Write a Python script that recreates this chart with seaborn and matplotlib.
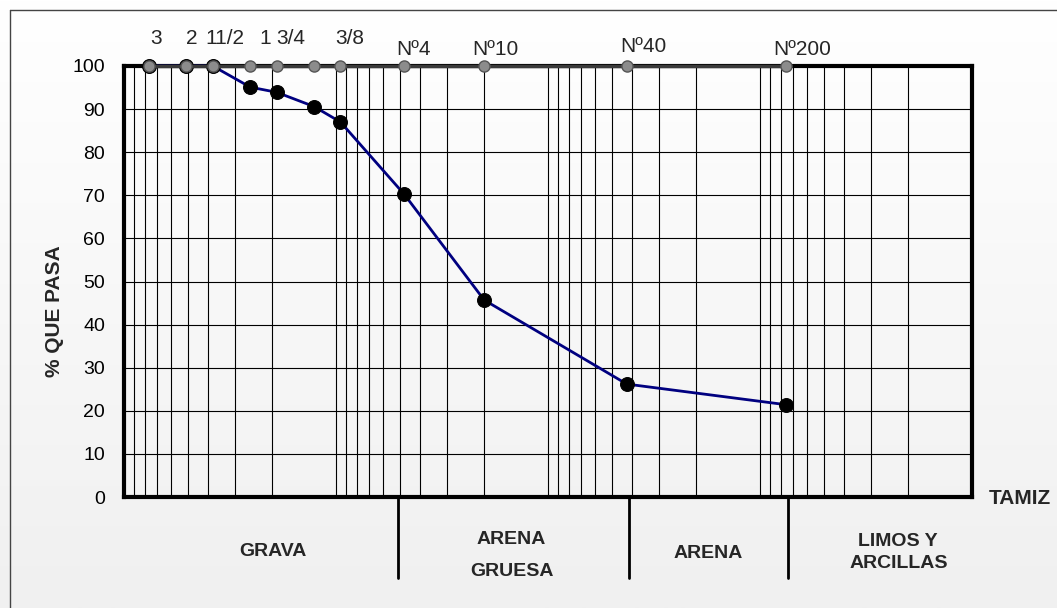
import seaborn as sns
import matplotlib.pyplot as plt
import matplotlib.ticker as ticker
from matplotlib.lines import Line2D
from matplotlib.colors import LinearSegmentedColormap
import numpy as np
import pandas as pd

# Curva granulometrica: abertura de tamiz (mm) y % que pasa
tamiz = ['3', '2', '11/2', '1', '3/4', '1/2', '3/8', 'Nº4', 'Nº10', 'Nº40', 'Nº200']
abertura = [76.2, 50.8, 38.1, 25.4, 19.05, 12.7, 9.525, 4.76, 2.0, 0.425, 0.075]
pasa = [100, 100, 100, 95.1, 93.9, 90.6, 87.0, 70.2, 45.7, 26.2, 21.4]
etiquetas = ['3', '2', '11/2', '1', '3/4', '', '3/8', 'Nº4', 'Nº10', 'Nº40', 'Nº200']
yticks = [0, 10, 20, 30, 40, 50, 60, 70, 80, 90, 100]

# desplazamiento de las etiquetas de tamiz (pixeles)
desp = [(7, 22), (5, 22), (12, 22), (15, 22), (14, 22), (0, 0), (9, 22),
        (9, 11), (11, 11), (17, 14), (16, 11)]

sns.set_theme(style='white')
plt.rcParams['font.family'] = ['Liberation Sans', 'DejaVu Sans']

W, H = 1057, 608
fig = plt.figure(figsize=(W / 100, H / 100), dpi=100)

# fondo degradado
bg = fig.add_axes([0, 0, 1, 1], zorder=0)
grad = np.linspace(0, 1, 256).reshape(-1, 1)
cmap = LinearSegmentedColormap.from_list('fondo', ['#ffffff', '#f0f0f0'])
bg.imshow(grad, aspect='auto', cmap=cmap, extent=[0, 1, 0, 1], origin='upper')
bg.axis('off')

ax = fig.add_axes([124 / W, 1 - 497 / H, (972 - 124) / W, (497 - 66) / H], zorder=1)
ax.set_facecolor('none')

df = pd.DataFrame({'abertura': abertura, 'pasa': pasa, 'tamiz': tamiz})

sns.lineplot(data=df, x='abertura', y='pasa', sort=False, ax=ax,
             color='#000080', lw=2, marker='o', markersize=10,
             markerfacecolor='black', markeredgecolor='black',
             clip_on=False, zorder=3)

df['tope'] = np.full(len(abertura), 100)
sns.lineplot(data=df, x='abertura', y='tope', sort=False, ax=ax,
             color='#3a3a3a', lw=2.5, marker='o', markersize=8,
             markerfacecolor='#8c8c8c', markeredgecolor='#555555',
             markeredgewidth=1, clip_on=False, zorder=4)

for et, xv, (dx, dy) in zip(etiquetas, abertura, desp):
    if et:
        ax.annotate(et, (xv, 100), xytext=(dx, dy), textcoords='offset pixels',
                    ha='center', va='baseline', fontsize=15)

ax.set_xscale('log')
ax.set_xlim(100, 0.01)
ax.set_ylim(0, 100)
ax.xaxis.set_major_locator(ticker.LogLocator(base=10, numticks=10))
ax.xaxis.set_minor_locator(ticker.LogLocator(base=10, subs=np.arange(2, 10), numticks=100))
ax.xaxis.set_major_formatter(ticker.NullFormatter())
ax.xaxis.set_minor_formatter(ticker.NullFormatter())
ax.set_yticks(yticks)
ax.tick_params(axis='y', length=0, pad=13.5, labelsize=14, colors='black')
ax.tick_params(axis='x', which='both', length=0)
ax.grid(True, which='both', axis='x', color='black', lw=0.8)
ax.grid(True, which='major', axis='y', color='black', lw=0.8)
ax.set_xlabel('')
ax.set_ylabel('')
for s in ax.spines.values():
    s.set_visible(True)
    s.set_color('black')
    s.set_linewidth(3)

# separadores de zonas
for xf in [(398 - 124) / 848, (629 - 124) / 848, (788 - 124) / 848]:
    ax.plot([xf, xf], [0, -81 / 431], transform=ax.transAxes, color='black',
            lw=2, clip_on=False)

def ftxt(px, py, s, **kw):
    fig.text(px / W, 1 - py / H, s, ha='center', va='center', **kw)

ftxt(55, 311, '% QUE PASA', rotation=90, fontsize=15, fontweight='bold')
ftxt(1020, 498, 'TAMIZ', fontsize=15, fontweight='bold')
ftxt(273, 552, 'GRAVA', fontsize=14, fontweight='bold')
ftxt(511, 540, 'ARENA', fontsize=14, fontweight='bold')
ftxt(512, 572, 'GRUESA', fontsize=14, fontweight='bold')
ftxt(708, 554, 'ARENA', fontsize=14, fontweight='bold')
ftxt(898, 541, 'LIMOS Y', fontsize=14, fontweight='bold')
ftxt(899, 563, 'ARCILLAS', fontsize=14, fontweight='bold')

# marco exterior
fig.add_artist(Line2D([10 / W, 10 / W], [0, 1 - 9.5 / H], transform=fig.transFigure,
                      color='#444444', lw=1))
fig.add_artist(Line2D([10 / W, 1], [1 - 9.5 / H, 1 - 9.5 / H], transform=fig.transFigure,
                      color='#444444', lw=1))

fig.savefig('out.png', dpi=100)
